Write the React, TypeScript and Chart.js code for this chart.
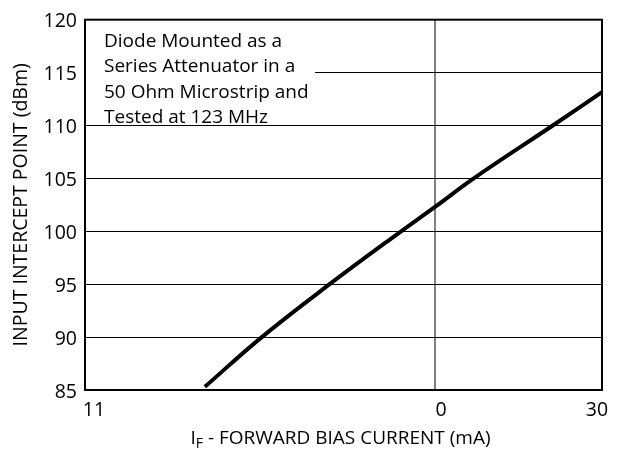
import React, { useEffect, useRef } from "react";
import { Chart, registerables } from "chart.js";

Chart.register(...registerables);

const biasCurrentMA = [2.2, 3.2, 5.0, 8.0, 10, 12.9, 21.7, 30];
const interceptPointDBm = [85.3, 90.0, 95.0, 100.0, 102.3, 105.0, 110.0, 113.15];
const xTickValues = [1, 10, 30];
const xTickLabels = ["11", "0", "30"];
const xTickLabelShift = [9, 6, -5];
const yMin = 85;
const yMax = 120;
const yStep = 5;
const annotationLines = [
  "Diode Mounted as a",
  "Series Attenuator in a",
  "50 Ohm Microstrip and",
  "Tested at 123 MHz",
];
const yTitle = "INPUT INTERCEPT POINT (dBm)";
const xTitleMain = "I";
const xTitleSub = "F";
const xTitleRest = " - FORWARD BIAS CURRENT (mA)";

const FONT = "'Open Sans', sans-serif";
const FS = 19.5;
const FS_NOTE = 19;

const overlayPlugin = {
  id: "overlay",
  beforeDatasetsDraw(chart: any) {
    const { ctx, chartArea, scales } = chart;
    const y = scales.y;
    ctx.save();
    ctx.fillStyle = "#ffffff";
    const top = chartArea.top + 1;
    const bottom = y.getPixelForValue(110) - 2;
    ctx.fillRect(chartArea.left + 1, top, 229, bottom - top);
    ctx.fillStyle = "#000";
    ctx.font = `${FS_NOTE}px ${FONT}`;
    ctx.textAlign = "left";
    ctx.textBaseline = "alphabetic";
    annotationLines.forEach((line, i) => {
      ctx.fillText(line, chartArea.left + 19, chartArea.top + 27 + i * 25.5);
    });
    ctx.restore();
  },
  afterDraw(chart: any) {
    const { ctx, chartArea, scales } = chart;
    const x = scales.x;
    ctx.save();
    ctx.strokeStyle = "#000";
    ctx.lineWidth = 2;
    ctx.strokeRect(chartArea.left, chartArea.top, chartArea.right - chartArea.left, chartArea.bottom - chartArea.top);
    ctx.fillStyle = "#000";
    ctx.font = `${FS}px ${FONT}`;
    ctx.textAlign = "center";
    ctx.textBaseline = "middle";
    xTickValues.forEach((v, i) => {
      ctx.fillText(xTickLabels[i], x.getPixelForValue(v) + xTickLabelShift[i], chartArea.bottom + 20);
    });
    const mainFont = `${FS_NOTE}px ${FONT}`;
    const subFont = `${Math.round(FS_NOTE * 0.72)}px ${FONT}`;
    ctx.font = mainFont;
    const w1 = ctx.measureText(xTitleMain).width;
    const w3 = ctx.measureText(xTitleRest).width;
    ctx.font = subFont;
    const w2 = ctx.measureText(xTitleSub).width;
    const total = w1 + w2 + w3;
    const cx = (chartArea.left + chartArea.right) / 2 - 3;
    let sx = cx - total / 2;
    const baseY = chartArea.bottom + 54;
    ctx.textAlign = "left";
    ctx.textBaseline = "alphabetic";
    ctx.font = mainFont;
    ctx.fillText(xTitleMain, sx, baseY);
    sx += w1;
    ctx.font = subFont;
    ctx.fillText(xTitleSub, sx, baseY + 4);
    sx += w2;
    ctx.font = mainFont;
    ctx.fillText(xTitleRest, sx, baseY);
    ctx.restore();
  },
};

export default function App() {
  const ref = useRef<HTMLCanvasElement | null>(null);
  useEffect(() => {
    document.body.style.margin = "0";
    if (!ref.current) return;
    const chart = new Chart(ref.current, {
      type: "line",
      data: {
        datasets: [
          {
            data: biasCurrentMA.map((v, i) => ({ x: v, y: interceptPointDBm[i] })),
            borderColor: "#000",
            borderWidth: 4,
            pointRadius: 0,
            tension: 0.4,
            fill: false,
          },
        ],
      },
      options: {
        animation: false,
        responsive: false,
        devicePixelRatio: 1,
        layout: { padding: { top: 12, right: 17, left: 0, bottom: 0 } },
        plugins: { legend: { display: false }, tooltip: { enabled: false } },
        scales: {
          x: {
            type: "logarithmic",
            min: 1,
            max: 30,
            afterBuildTicks: (scale: any) => {
              scale.ticks = xTickValues.map((v) => ({ value: v }));
            },
            afterFit: (scale: any) => {
              scale.height = 63;
            },
            ticks: { display: false },
            grid: {
              drawTicks: false,
              color: (c: any) => (c.tick && c.tick.value === 10 ? "#808080" : "rgba(0,0,0,0)"),
              lineWidth: 2,
            },
            border: { display: true, color: "#000", width: 2 },
          },
          y: {
            type: "linear",
            min: yMin,
            max: yMax,
            afterFit: (scale: any) => {
              scale.width = 85;
            },
            ticks: {
              stepSize: yStep,
              color: "#000",
              font: { family: FONT, size: FS },
              padding: 8,
              labelOffset: 2,
            },
            grid: { drawTicks: false, color: "#000", lineWidth: 1 },
            border: { display: true, color: "#000", width: 2 },
            title: {
              display: true,
              text: yTitle,
              color: "#000",
              font: { family: FONT, size: FS },
              padding: { top: 9.5, bottom: 0 },
            },
          },
        },
      },
      plugins: [overlayPlugin],
    } as any);
    return () => chart.destroy();
  }, []);
  return (
    <div style={{ width: 619, height: 453 }}>
      <canvas ref={ref} width={619} height={453} style={{ width: 619, height: 453, display: "block" }} />
    </div>
  );
}
